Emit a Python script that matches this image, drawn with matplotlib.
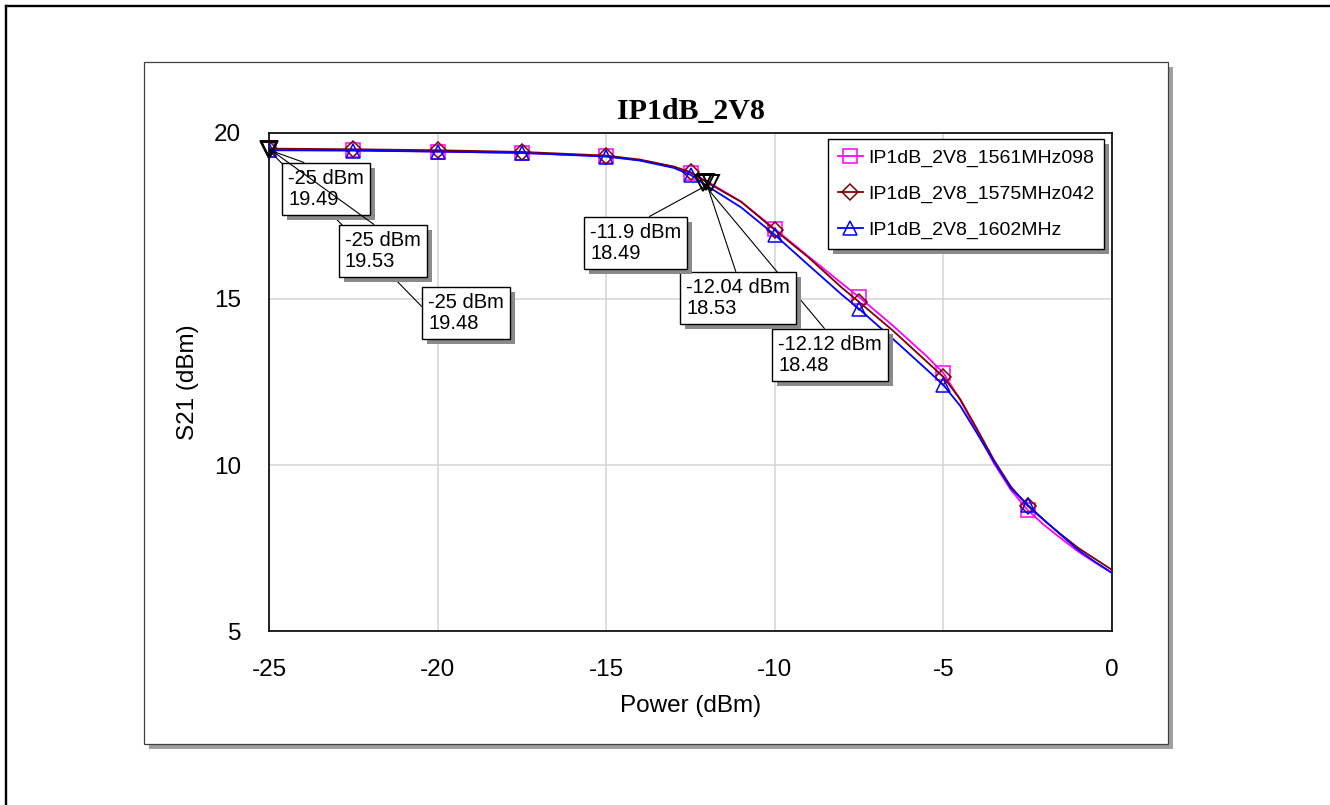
import matplotlib
matplotlib.use("Agg")
import matplotlib.pyplot as plt
from matplotlib.patches import Rectangle
from matplotlib.lines import Line2D
import matplotlib.patheffects as pe

# ---------------- data ----------------
power = [-25, -22.5, -20, -17.5, -15, -14, -13, -12.5, -12, -11, -10, -9, -8, -7.5,
         -6.5, -5.5, -5, -4.5, -4, -3.5, -3, -2.5, -2, -1.5, -1, -0.5, 0]
s21_1561 = [19.49, 19.48, 19.44, 19.40, 19.30, 19.18, 18.98, 18.80, 18.54, 17.93, 17.11, 16.28, 15.46, 15.06,
            14.20, 13.28, 12.77, 11.96, 11.00, 10.05, 9.25, 8.64, 8.18, 7.78, 7.39, 7.06, 6.75]
s21_1575 = [19.53, 19.51, 19.48, 19.43, 19.32, 19.20, 18.99, 18.82, 18.50, 17.93, 17.08, 16.25, 15.33, 14.91,
            14.05, 13.12, 12.65, 11.98, 11.08, 10.15, 9.35, 8.77, 8.32, 7.90, 7.50, 7.17, 6.84]
s21_1602 = [19.48, 19.47, 19.44, 19.40, 19.29, 19.17, 18.95, 18.74, 18.40, 17.76, 16.93, 16.02, 15.12, 14.70,
            13.80, 12.88, 12.41, 11.78, 10.95, 10.10, 9.30, 8.80, 8.33, 7.88, 7.44, 7.08, 6.75]
series_names = ["IP1dB_2V8_1561MHz098", "IP1dB_2V8_1575MHz042", "IP1dB_2V8_1602MHz"]

ann_power = [-25, -25, -25, -11.9, -12.04, -12.12]
ann_s21 = [19.49, 19.53, 19.48, 18.49, 18.53, 18.48]

x_ticks = [-25, -20, -15, -10, -5, 0]
y_ticks = [5, 10, 15, 20]

W, H = 1330, 805
plt.rcParams['font.family'] = ['Liberation Sans', 'DejaVu Sans']

fig = plt.figure(figsize=(W / 100, H / 100), dpi=100)

def fx(px):
    return px / W

def fy(py):
    return (H - py) / H

# outer frame (top and left lines)
fig.add_artist(Line2D([fx(6), fx(1330)], [fy(6), fy(6)], color='black', lw=1.7, transform=fig.transFigure))
fig.add_artist(Line2D([fx(6), fx(6)], [fy(6), fy(805)], color='black', lw=1.7, transform=fig.transFigure))
# panel shadow + panel
fig.add_artist(Rectangle((fx(149), fy(749)), fx(1173) - fx(149), fy(67) - fy(749),
                         transform=fig.transFigure, facecolor='#a0a0a0', edgecolor='none', zorder=0))
fig.add_artist(Rectangle((fx(144), fy(744)), fx(1168) - fx(144), fy(62) - fy(744),
                         transform=fig.transFigure, facecolor='white', edgecolor='#404040', lw=0.9, zorder=0.5))

ax = fig.add_axes([fx(269), fy(631), fx(1112) - fx(269), fy(133) - fy(631)])
ax.set_zorder(2)
ax.patch.set_facecolor('white')

ax.set_xlim(-25, 0)
ax.set_ylim(5, 20)
ax.set_xticks(x_ticks)
ax.set_yticks(y_ticks)
ax.set_xticklabels([str(v) for v in x_ticks])
ax.set_yticklabels([str(v) for v in y_ticks])
ax.tick_params(length=0, labelsize=17.5, pad=20)
ax.grid(True, color='#d4d4d4', lw=1.1)
ax.set_axisbelow(True)
for sp in ax.spines.values():
    sp.set_linewidth(1.2)
    sp.set_color('black')

mark_idx = [i for i, v in enumerate(power) if v % 2.5 == 0 and v < 0]
styles = [
    (s21_1561, '#ff00ff', 's', 10.5),
    (s21_1575, '#800000', 'D', 8.0),
    (s21_1602, '#0000ff', '^', 10.0),
]
handles = []
for (vals, col, mk, ms), name in zip(styles, series_names):
    h, = ax.plot(power, vals, color=col, lw=1.3, marker=mk, markersize=ms,
                 markerfacecolor='none', markeredgecolor=col, markeredgewidth=1.1,
                 markevery=mark_idx, label=name, zorder=3)
    handles.append(h)

# readout markers
ax.plot(ann_power, ann_s21, linestyle='none', marker='v', markersize=11,
        markerfacecolor='none', markeredgecolor='black', markeredgewidth=1.4, zorder=4, clip_on=False)

# annotation boxes (image pixel top-left of box), relpos, zorder
box_pos = [(282, 163), (339, 225), (422, 287), (584, 217), (680, 272), (772, 329)]
rel_pos = [(0.45, 1), (0.5, 1), (0, 0.5), (0.52, 1), (0.5, 1), (0.5, 1)]
zords = [6, 7, 5, 7, 6, 5]
pad_px = 6
for xv, yv, (bx, by), rp, zo in zip(ann_power, ann_s21, box_pos, rel_pos, zords):
    label = f"{xv:g} dBm\n{yv:.2f}"
    ann = ax.annotate(label, xy=(xv, yv), xycoords='data',
                      xytext=(bx + pad_px, H - by - pad_px), textcoords='figure pixels',
                      ha='left', va='top', fontsize=14.5, linespacing=1.12,
                      bbox=dict(boxstyle='square,pad=0.3', fc='white', ec='black', lw=1.0),
                      arrowprops=dict(arrowstyle='-', color='black', lw=0.8, relpos=rp,
                                      shrinkA=0, shrinkB=0),
                      annotation_clip=False, zorder=zo)
    ann.get_bbox_patch().set_path_effects([
        pe.SimplePatchShadow(offset=(3.6, -3.6), shadow_rgbFace='#8a8a8a', alpha=1.0),
        pe.Normal()])

ax.set_title("IP1dB_2V8", fontsize=21.5, fontweight='bold', family='Liberation Serif', pad=10)
ax.set_xlabel("Power (dBm)", fontsize=17.5)
ax.set_ylabel("S21 (dBm)", fontsize=17.5)
ax.xaxis.set_label_coords(0.5, (631 - 706) / 498, transform=ax.transAxes)
ax.yaxis.set_label_coords((188 - 269) / 843, 0.5, transform=ax.transAxes)
ax.xaxis.label.set_va('center')
ax.yaxis.label.set_va('center')

leg = ax.legend(handles=handles, loc='upper left',
                bbox_to_anchor=(fx(828), fy(139)), bbox_transform=fig.transFigure,
                borderaxespad=0, fontsize=14, handlelength=1.3, handletextpad=0.25,
                labelspacing=0.95, borderpad=0.5, fancybox=False, framealpha=1,
                edgecolor='black')
leg.get_frame().set_linewidth(1.0)
leg.get_frame().set_path_effects([
    pe.SimplePatchShadow(offset=(3.6, -3.6), shadow_rgbFace='#8a8a8a', alpha=1.0),
    pe.Normal()])
leg.set_zorder(8)

fig.savefig("out.png", dpi=100)
